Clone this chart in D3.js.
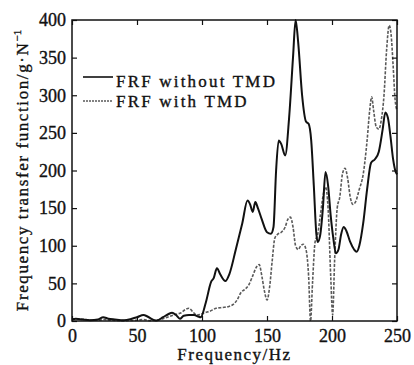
<!DOCTYPE html>
<html>
<head>
<meta charset="utf-8">
<script src="https://cdn.jsdelivr.net/npm/d3@7"></script>
<style>
    body { margin: 0; background: #fff; }
    svg text { font-family: "Liberation Serif", "Times New Roman", serif; fill: #111; stroke: #111; stroke-width: 0.35px; }
</style>
</head>
<body>
<div id="chart"></div>
<script>
// FRF without TMD (solid)
var freqWithout = [0, 3, 8, 14, 20, 24, 28, 33, 40, 46, 50, 55, 58, 62, 65, 70, 74, 77, 80, 83, 86, 90, 94, 97, 99,
    103, 107, 109, 111.5, 114, 118, 121, 126, 131, 135, 137, 139, 141, 143, 146, 150, 153, 155, 157, 159, 161, 164,
    167, 170, 172, 174, 177, 180, 182, 184, 186, 188, 189, 191, 193, 195, 197, 199, 201, 203, 205, 207, 209, 211,
    214, 217, 219, 221, 224, 227, 230, 233, 236, 239, 241, 243, 245, 247, 249, 250];
var valWithout = [2, 3, 2, 1, 2, 5, 3, 2, 1, 3, 5, 8, 6, 2, 0.5, 5, 9, 11, 8, 3, 7, 8, 8, 6, 5,
    25, 52, 57, 70, 62, 53, 62, 95, 130, 160, 155, 145, 158, 150, 135, 118, 116, 125, 200, 240, 235, 220,
    270, 350, 400, 370, 300, 265, 262, 240, 180, 115, 105, 115, 150, 198, 180, 140, 110, 90, 95, 115, 125, 120,
    105, 95, 92, 100, 130, 175, 210, 215, 225, 255, 277, 270, 245, 215, 198, 195];

// FRF with TMD (dashed)
var freqWith = [0, 5, 10, 15, 20, 25, 30, 40, 50, 55, 60, 65, 70, 75, 80, 84, 87, 90, 93, 96, 99, 102, 106, 111,
    116, 120, 124, 127, 130, 133, 136, 139, 142, 144, 146, 148, 150, 152, 154, 156, 158, 161, 164, 166, 168, 170,
    172, 174, 176, 178, 180, 182, 183.5, 185, 187, 189, 191, 193, 195, 197, 199, 200.5, 202, 204, 206, 208, 210,
    212, 214, 216, 218, 221, 224, 227, 229, 230.5, 232, 234, 236, 238, 240, 242, 244, 245.5, 247, 248.5, 250];
var valWith = [3, 3, 2, 1, 1, 2, 1, 0.5, 1, 2, 0.5, 1, 3, 6, 9, 11, 15, 17, 12, 8, 9, 11, 13, 17,
    18, 19, 22, 28, 38, 42, 48, 60, 72, 75, 60, 40, 28, 45, 80, 110, 115, 118, 125, 135, 138, 125,
    100, 95, 100, 102, 95, 60, 0, 50, 105, 115, 140, 165, 178, 150, 60, 8, 80, 150, 165, 195, 203,
    190, 165, 155, 158, 175, 195, 240, 280, 298, 280, 258, 255, 268, 300, 360, 393, 380, 340, 295, 280];

var xTicks = [0, 50, 100, 150, 200, 250];
var yTicks = [0, 50, 100, 150, 200, 250, 300, 350, 400];
var legendLabels = ['FRF without TMD', 'FRF with TMD'];

var width = 414, height = 365;
var margin = {left: 72, right: 17, top: 20, bottom: 44};

var svg = d3.select('#chart')
    .append('svg')
    .attr('width', width)
    .attr('height', height);

var x = d3.scaleLinear()
    .domain([0, 250])
    .range([margin.left, width - margin.right]);
var y = d3.scaleLinear()
    .domain([0, 400])
    .range([height - margin.bottom, margin.top]);

function series(fs, vs) {
    return fs.map(function (f, i) { return {f: f, v: vs[i]}; });
}

var line = d3.line()
    .x(function (d) { return x(d.f); })
    .y(function (d) { return y(d.v); })
    .curve(d3.curveMonotoneX);

// dashed series first so the solid one sits on top
svg.append('path')
    .datum(series(freqWith, valWith))
    .attr('d', line)
    .style('fill', 'none')
    .style('stroke', '#5a5a5a')
    .style('stroke-width', 1.6)
    .style('stroke-dasharray', '3,1.5');

svg.append('path')
    .datum(series(freqWithout, valWithout))
    .attr('d', line)
    .style('fill', 'none')
    .style('stroke', '#111')
    .style('stroke-width', 2);

// axes: ticks pointing inward, mirrored on top and right
var tickLen = 5;
svg.append('g')
    .attr('transform', 'translate(0,' + y(0) + ')')
    .call(d3.axisBottom(x).tickValues(xTicks).tickSizeInner(-tickLen).tickSizeOuter(0).tickPadding(8))
    .call(styleAxis);
svg.append('g')
    .attr('transform', 'translate(0,' + y(400) + ')')
    .call(d3.axisTop(x).tickValues(xTicks).tickSizeInner(-tickLen).tickSizeOuter(0).tickFormat(''))
    .call(styleAxis);
svg.append('g')
    .attr('transform', 'translate(' + x(0) + ',0)')
    .call(d3.axisLeft(y).tickValues(yTicks).tickSizeInner(-tickLen).tickSizeOuter(0).tickPadding(6))
    .call(styleAxis);
svg.append('g')
    .attr('transform', 'translate(' + x(250) + ',0)')
    .call(d3.axisRight(y).tickValues(yTicks).tickSizeInner(-tickLen).tickSizeOuter(0).tickFormat(''))
    .call(styleAxis);

function styleAxis(g) {
    g.select('.domain').remove();
    g.selectAll('.tick line').style('stroke', '#111').style('stroke-width', 1.2);
    g.selectAll('.tick text')
        .style('font-size', '18px')
        .style('font-family', '"Liberation Serif", serif')
        .style('fill', '#111');
}

// frame
svg.append('rect')
    .attr('x', x(0))
    .attr('y', y(400))
    .attr('width', x(250) - x(0))
    .attr('height', y(0) - y(400))
    .style('fill', 'none')
    .style('stroke', '#111')
    .style('stroke-width', 1.5);

// axis titles
svg.append('text')
    .attr('x', (x(0) + x(250)) / 2)
    .attr('y', 360)
    .attr('text-anchor', 'middle')
    .style('font-size', '17px')
    .style('letter-spacing', '1.5px')
    .text('Frequency/Hz');

var yTitle = svg.append('text')
    .attr('transform', 'translate(28,' + ((y(0) + y(400)) / 2) + ') rotate(-90)')
    .attr('text-anchor', 'middle')
    .style('font-size', '17px')
    .style('letter-spacing', '1.6px');
yTitle.append('tspan').text('Frequency transfer function/g\u00b7N');
yTitle.append('tspan')
    .attr('dy', -7)
    .style('font-size', '11px')
    .style('letter-spacing', '0px')
    .text('\u22121');

// legend
var legendY = [77, 101];
var legend = svg.append('g');
legendLabels.forEach(function (label, i) {
    legend.append('line')
        .attr('x1', 83)
        .attr('x2', 113)
        .attr('y1', legendY[i])
        .attr('y2', legendY[i])
        .style('stroke', i === 0 ? '#111' : '#5a5a5a')
        .style('stroke-width', i === 0 ? 1.6 : 1.4)
        .style('stroke-dasharray', i === 0 ? null : '2,1');
    legend.append('text')
        .attr('x', 116)
        .attr('y', i === 0 ? 87 : 107)
        .style('font-size', '17px')
        .style('letter-spacing', '2.2px')
        .text(label);
});
</script>
</body>
</html>
